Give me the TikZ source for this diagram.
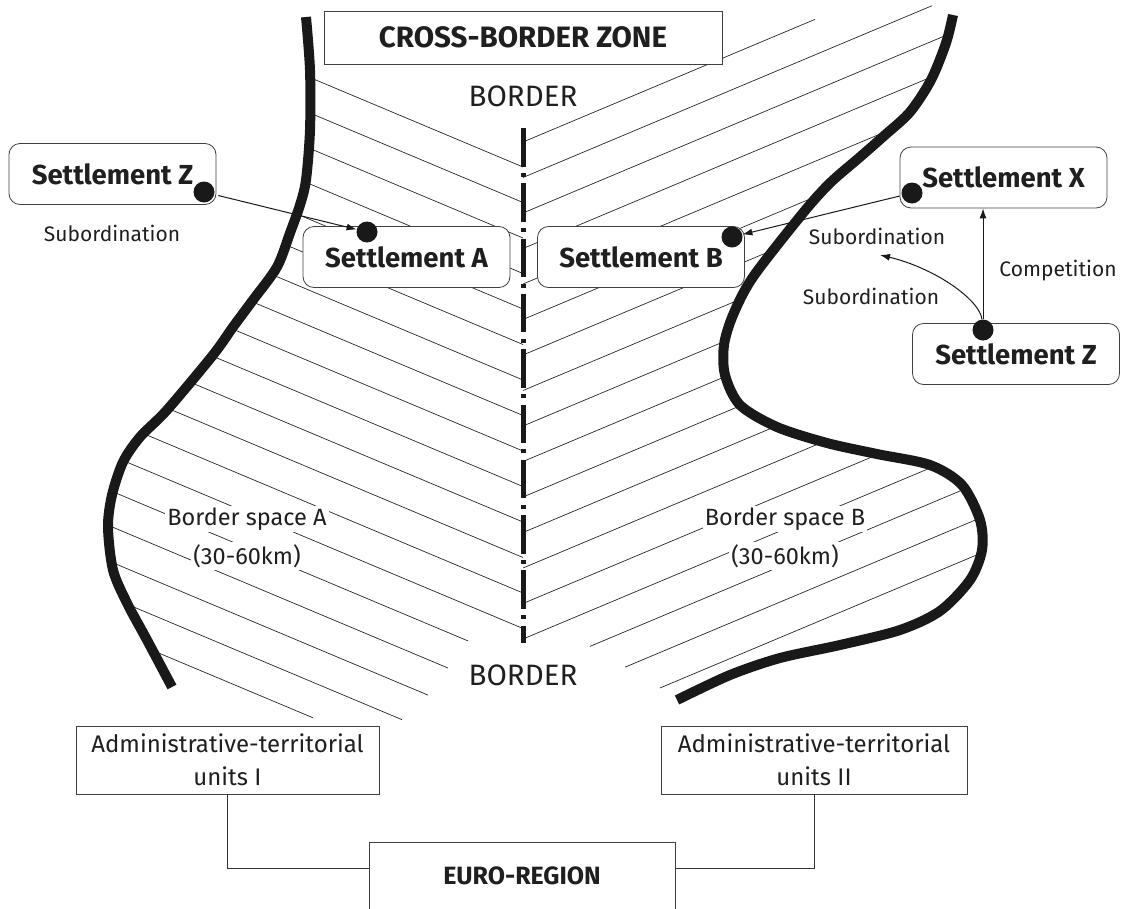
\documentclass[tikz,border=0pt]{standalone}
\usepackage{fontspec}
\setmainfont{Fira Sans}
\usetikzlibrary{arrows.meta,calc}
\begin{document}
\begin{tikzpicture}[x=1pt,y=-1pt,
  every node/.style={text=black!88},
  sbox/.style={draw=black!75, line width=0.8pt, rounded corners=11pt, fill=white,
    minimum width=207pt, minimum height=61pt, inner sep=0pt,
    font=\fontsize{27.5}{32}\selectfont\bfseries},
  pbox/.style={draw=black!75, line width=0.8pt, fill=white, inner sep=0pt},
  sdot/.style={circle, fill=black!90, minimum size=21pt, inner sep=0pt},
  lbl/.style={font=\fontsize{21}{25}\selectfont},
  arr/.style={line width=1pt, draw=black!90, -{Latex[length=10pt,width=7pt]}},
  conn/.style={line width=0.9pt, draw=black!80},
  hatch/.style={line width=0.7pt, draw=black!85},
  bcurve/.style={line width=10pt, draw=black!90},
  bsp/.style={fill=white, inner sep=2pt, font=\fontsize{23.5}{28}\selectfont},
]
\useasboundingbox (0,0) rectangle (1127,908);

% ---------- hatching, left ----------
\begin{scope}
\clip (523,-20) -- (300,-20) -- plot[smooth] coordinates {(306,17) (310,70) (310,130) (306,180) (300,205) (290,233) (277,267) (253,300) (233,327) (213,355) (167,410) (140,437) (123,462) (112,495) (108,527) (113,570) (127,603) (147,640) (172,687)} -- (172,800) -- (523,800) -- cycle;
\foreach \k in {0,...,13} {\draw[hatch] (23,{167+35.5*\k-210}) -- (523,{167+35.5*\k});}
\foreach \k/\e in {14/468,15/448,16/428,17/402,18/313} {\draw[hatch] (23,{167+35.5*\k-210}) -- (\e,{167+35.5*\k-0.42*(523-\e)});}
\end{scope}

% ---------- hatching, right ----------
\begin{scope}
\clip (523,-20) -- (966,-20) -- plot[smooth] coordinates {(953,15) (946,43) (931,80) (910,112) (885,135) (860,157) (830,183) (803,213) (753,277) (733,315) (724,345) (725,375) (740,405) (777,427) (827,443) (877,454) (930,465) (962,485) (980,520) (982,550) (970,580) (940,611) (900,630) (840,645) (780,658) (730,675) (677,700)} -- (523,720) -- cycle;
\draw[hatch] (523,142) -- (815,{142-0.42*292});
\draw[hatch] (523,177.5) -- (932,{177.5-0.42*409});
\foreach \j in {2,...,14} {\draw[hatch] (523,{142+35.5*\j}) -- (1123,{142+35.5*\j-252});}
\foreach \j/\s in {15/590,16/625,17/660} {\draw[hatch] (\s,{142+35.5*\j-0.42*(\s-523)}) -- (1123,{142+35.5*\j-252});}
\end{scope}

% ---------- border (dash-dot) ----------
\coordinate (btop) at (523,128);
\coordinate (bbot) at (523,643);
\draw[line width=5pt, draw=black!90, dash pattern=on 38.5pt off 6.4pt on 4pt off 6.4pt] (btop) -- (bbot);

% ---------- thick curves ----------
\draw[bcurve] plot[smooth] coordinates {(306,17) (310,70) (310,130) (306,180) (300,205) (290,233) (277,267) (253,300) (233,327) (213,355) (167,410) (140,437) (123,462) (112,495) (108,527) (113,570) (127,603) (147,640) (172,687)};
\draw[bcurve] plot[smooth] coordinates {(953,15) (946,43) (931,80) (910,112) (885,135) (860,157) (830,183) (803,213) (753,277) (733,315) (724,345) (725,375) (740,405) (777,427) (827,443) (877,454) (930,465) (962,485) (980,520) (982,550) (970,580) (940,611) (900,630) (840,645) (780,658) (730,675) (677,700)};

% ---------- texts and boxes ----------
\node[pbox, minimum width=398pt, minimum height=53pt, font=\fontsize{29.5}{34}\selectfont\bfseries] (cbz) at (523,37.5) {CROSS-BORDER ZONE};
\node[font=\fontsize{29.5}{34}\selectfont] (btxt) at (523,96) {BORDER};
\node[font=\fontsize{29.5}{34}\selectfont] (bbtxt) at (523,675) {BORDER};

\node[sbox] (Z1) at (112.5,174) {Settlement Z};
\node[sbox] (A) at (406.5,257) {Settlement A};
\node[sbox] (B) at (641,257) {Settlement B};
\node[sbox] (X) at (1003.5,177.5) {Settlement X};
\node[sbox] (Z2) at (1016,354) {Settlement Z};

\node[lbl] (s1) at (112,233) {Subordination};
\node[lbl] (s2) at (877,236) {Subordination};
\node[lbl] (s3) at (871,296) {Subordination};
\node[lbl] (comp) at (1058,271) {Competition};

\node[bsp] (bsa) at (247,519) {Border space A};
\node[bsp] (kma) at (247,556) {(30-60km)};
\node[bsp] (bsb) at (785,519) {Border space B};
\node[bsp] (kmb) at (785,556) {(30-60km)};

\node[pbox, minimum width=303pt, minimum height=68pt, align=center, font=\fontsize{24}{33}\selectfont] (adm1) at (227.5,760) {Administrative-territorial\\units I};
\node[pbox, minimum width=306pt, minimum height=68pt, align=center, font=\fontsize{24}{33}\selectfont] (adm2) at (814,760) {Administrative-territorial\\units II};
\node[pbox, minimum width=306pt, minimum height=68pt, font=\fontsize{25}{30}\selectfont\bfseries] (euro) at (522,876) {EURO-REGION};
\coordinate (eL) at ($(euro.north west)+(0,27)$);
\coordinate (eR) at ($(euro.north east)+(0,27)$);
\draw[conn] (adm1.south) |- (eL);
\draw[conn] (adm2.south) |- (eR);

% ---------- dots and arrows ----------
\node[sdot] (dZ1) at (204,192) {};
\node[sdot] (dA) at (367,232) {};
\node[sdot] (dB) at (732,237) {};
\node[sdot] (dX) at (912,193) {};
\node[sdot] (dZ2) at (983,330) {};
\coordinate (ce) at (880,255);

\draw[arr, shorten <=4pt] (dZ1) -- (dA);
\draw[arr, shorten <=2pt] (dX) -- (dB);
\draw[arr] (dZ2) -- (dZ2 |- X.south);
\draw[arr] (dZ2) .. controls (980,300) and (935,268) .. (ce);
\end{tikzpicture}
\end{document}
